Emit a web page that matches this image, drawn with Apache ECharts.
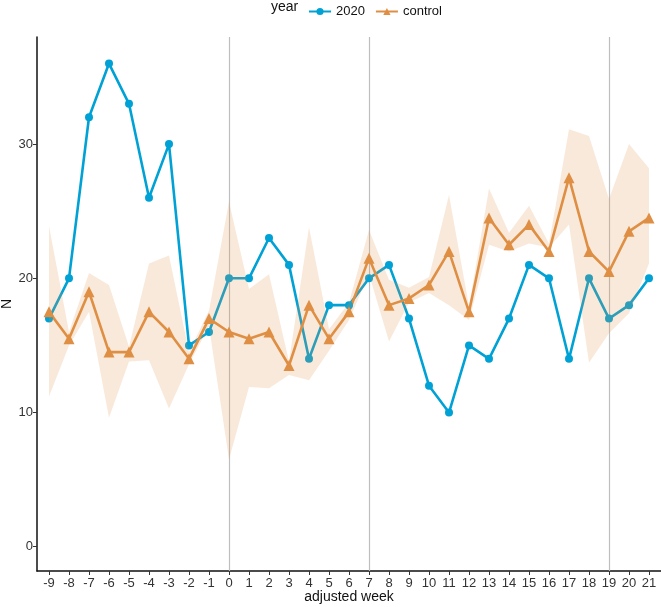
<!DOCTYPE html>
<html>
<head>
<meta charset="utf-8">
<script src="https://cdn.jsdelivr.net/npm/echarts@6/dist/echarts.min.js"></script>
<style>html,body{margin:0;padding:0;background:#fff}#c{width:661px;height:607px}</style>
</head>
<body>
<div id="c"></div>
<script>
var weeks = [-9,-8,-7,-6,-5,-4,-3,-2,-1,0,1,2,3,4,5,6,7,8,9,10,11,12,13,14,15,16,17,18,19,20,21];
var n2020 = [17,20,32,36,33,26,30,15,16,20,20,23,21,14,18,18,20,21,17,12,10,15,14,17,21,20,14,20,17,18,20];
var control = [17.5,15.5,19,14.5,14.5,17.5,16,14,17,16,15.5,16,13.5,18,15.5,17.5,21.5,18,18.5,19.5,22,17.5,24.5,22.5,24,22,27.5,22,20.5,23.5,24.5];
var ctrlUpper = [23.9,16.0,20.4,19.5,14.9,21.1,21.7,14.5,17.6,25.7,19.2,20.3,13.8,23.8,16.2,18.2,23.6,19.9,19.3,20.1,26.2,17.9,26.7,23.4,25.4,22.6,31.1,30.6,25.9,30.0,28.2];
var ctrlLower = [11.2,15.0,17.5,9.6,13.8,13.9,10.3,13.6,16.4,6.5,11.9,11.8,12.8,12.4,14.6,16.9,20.3,15.3,18.2,18.9,18.0,16.9,22.5,22.0,22.6,22.3,24.0,13.7,15.9,17.4,21.1];
var xTicks = weeks;
var yTicks = [0,10,20,30];
var vlines = [0,7,19];

var BLUE = '#00A1D5', ORANGE = '#DF8F44';
var FONT = 'Liberation Sans, Arial, sans-serif';

var chart = echarts.init(document.getElementById('c'), null, {renderer:'canvas'});
chart.setOption({
  animation:false,
  textStyle:{fontFamily:FONT},
  grid:{left:37, right:0, top:37, bottom:36, containLabel:false, outerBoundsMode:'none'},
  legend:{
    data:['2020','control'], left:303, top:0, itemWidth:22, itemHeight:9, itemGap:10,
    textStyle:{fontFamily:FONT, fontSize:13, color:'#111'}
  },
  graphic:[{type:'text', left:271, top:0, style:{text:'year', font:'14px '+FONT, fill:'#111'}}],
  xAxis:{
    type:'value', min:-9.6, max:21.6,
    name:'adjusted week', nameLocation:'middle', nameGap:19, nameMoveOverlap:false,
    nameTextStyle:{fontFamily:FONT, fontSize:14, color:'#111'},
    axisLine:{show:true, onZero:false, lineStyle:{color:'#111', width:1.5}},
    axisTick:{show:true, length:4, customValues:xTicks, lineStyle:{color:'#333'}},
    axisLabel:{customValues:xTicks, fontFamily:FONT, fontSize:13, color:'#333', margin:6},
    splitLine:{show:false}
  },
  yAxis:{
    type:'value', min:-1.81, max:37.98,
    name:'N', nameLocation:'middle', nameGap:23, nameRotate:90, nameMoveOverlap:false,
    nameTextStyle:{fontFamily:FONT, fontSize:14, color:'#111'},
    axisLine:{show:true, onZero:false, lineStyle:{color:'#111', width:1.5}},
    axisTick:{show:true, length:4, customValues:yTicks, lineStyle:{color:'#333'}},
    axisLabel:{customValues:yTicks, fontFamily:FONT, fontSize:13, color:'#333', margin:4},
    splitLine:{show:false}
  },
  series:[
    {
      name:'2020', type:'line', z:3,
      data: weeks.map(function(w,i){return [w, n2020[i]];}),
      symbol:'circle', symbolSize:8,
      lineStyle:{color:BLUE, width:2.6}, itemStyle:{color:BLUE},
      markLine:{
        silent:true, symbol:['none','none'], label:{show:false},
        lineStyle:{color:'#BEBEBE', width:1.2, type:'solid'},
        data: vlines.map(function(v){return {xAxis:v};}),
        z:1
      }
    },
    {
      name:'control', type:'line', z:3,
      data: weeks.map(function(w,i){return [w, control[i]];}),
      symbol:'triangle', symbolSize:11,
      lineStyle:{color:ORANGE, width:2.6}, itemStyle:{color:ORANGE}
    },
    {
      name:'band', type:'custom', z:4, silent:true,
      data:[0],
      renderItem:function(params, api){
        var pts = [];
        for (var i=0;i<weeks.length;i++) pts.push(api.coord([weeks[i], ctrlUpper[i]]));
        for (var j=weeks.length-1;j>=0;j--) pts.push(api.coord([weeks[j], ctrlLower[j]]));
        return {type:'polygon', shape:{points:pts}, style:{fill:'rgba(223,143,68,0.2)'}};
      }
    }
  ]
});
</script>
</body>
</html>
